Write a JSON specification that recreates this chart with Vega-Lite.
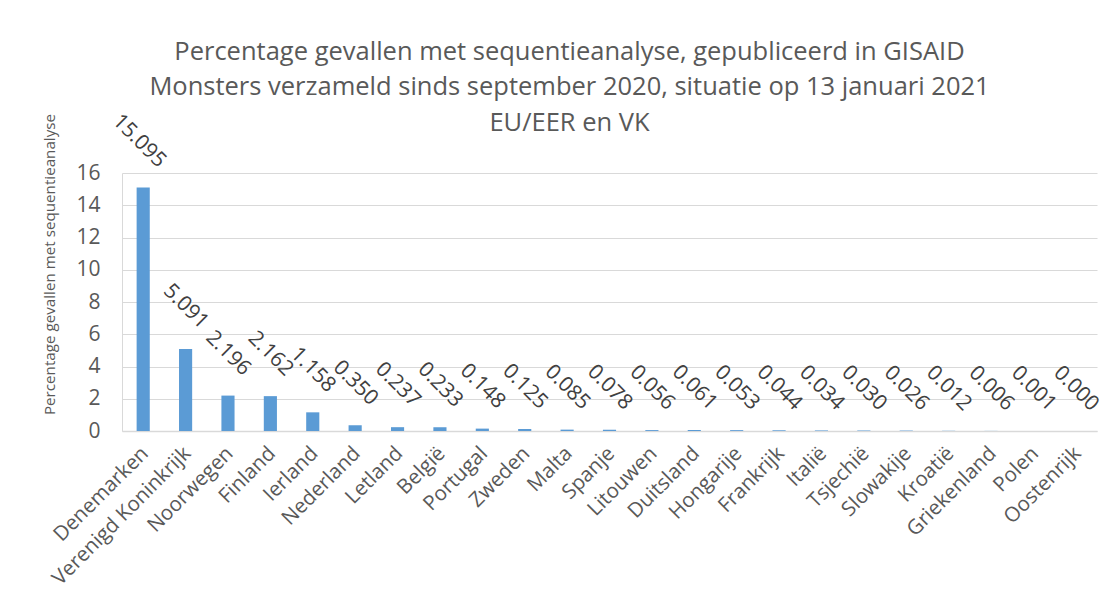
{
  "$schema": "https://vega.github.io/schema/vega-lite/v6.json",
  "width": 975,
  "height": 258,
  "autosize": {"type": "none"},
  "padding": {"left": 122, "top": 173, "right": 18, "bottom": 179},
  "background": "white",
  "config": {
    "font": "Open Sans",
    "view": {"stroke": null},
    "axis": {"labelFont": "Open Sans", "titleFont": "Open Sans"}
  },
  "title": {
    "text": ["Percentage gevallen met sequentieanalyse, gepubliceerd in GISAID", "Monsters verzameld sinds september 2020, situatie op 13 januari 2021", "EU/EER en VK"],
    "anchor": "middle",
    "frame": "group",
    "dx": -40,
    "offset": -26,
    "fontSize": 25.5,
    "fontWeight": "normal",
    "color": "#595959",
    "lineHeight": 35.5
  },
  "data": {
    "values": [
      {"land": "Denemarken", "pct": 15.095},
      {"land": "Verenigd Koninkrijk", "pct": 5.091},
      {"land": "Noorwegen", "pct": 2.196},
      {"land": "Finland", "pct": 2.162},
      {"land": "Ierland", "pct": 1.158},
      {"land": "Nederland", "pct": 0.350},
      {"land": "Letland", "pct": 0.237},
      {"land": "België", "pct": 0.233},
      {"land": "Portugal", "pct": 0.148},
      {"land": "Zweden", "pct": 0.125},
      {"land": "Malta", "pct": 0.085},
      {"land": "Spanje", "pct": 0.078},
      {"land": "Litouwen", "pct": 0.056},
      {"land": "Duitsland", "pct": 0.061},
      {"land": "Hongarije", "pct": 0.053},
      {"land": "Frankrijk", "pct": 0.044},
      {"land": "Italië", "pct": 0.034},
      {"land": "Tsjechië", "pct": 0.030},
      {"land": "Slowakije", "pct": 0.026},
      {"land": "Kroatië", "pct": 0.012},
      {"land": "Griekenland", "pct": 0.006},
      {"land": "Polen", "pct": 0.001},
      {"land": "Oostenrijk", "pct": 0.000}
    ]
  },
  "encoding": {
    "x": {
      "field": "land",
      "type": "nominal",
      "sort": null,
      "scale": {"paddingInner": 0.69, "paddingOuter": 0.345},
      "axis": {
        "title": null,
        "labelAngle": -45,
        "labelAlign": "right",
        "labelBaseline": "middle",
        "labelPadding": 19,
        "labelOffset": 2,
        "labelFontSize": 20.5,
        "labelColor": "#595959",
        "ticks": false,
        "domainColor": "#D9D9D9",
        "domainWidth": 1.5,
        "labelOverlap": false,
        "labelLimit": 0
      }
    },
    "y": {
      "field": "pct",
      "type": "quantitative",
      "scale": {"domain": [0, 16], "nice": false},
      "axis": {
        "title": "Percentage gevallen met sequentieanalyse",
        "titleFontSize": 15.2,
        "titleFontWeight": "normal",
        "titleColor": "#595959",
        "titleX": -73,
        "titleY": 91,
        "titleBaseline": "middle",
        "titleAlign": "center",
        "titleAngle": -90,
        "values": [0, 2, 4, 6, 8, 10, 12, 14, 16],
        "labelFontSize": 21,
        "labelColor": "#595959",
        "labelPadding": 22,
        "ticks": false,
        "domainColor": "#D9D9D9",
        "gridColor": "#D9D9D9",
        "gridWidth": 1
      }
    }
  },
  "layer": [
    {"mark": {"type": "bar", "color": "#5B9BD5"}},
    {
      "mark": {"type": "text", "angle": 45, "align": "right", "baseline": "middle", "dx": -3, "dy": -30, "fontSize": 21, "color": "#404040"},
      "encoding": {"text": {"field": "pct", "type": "quantitative", "format": ".3f"}}
    }
  ]
}
